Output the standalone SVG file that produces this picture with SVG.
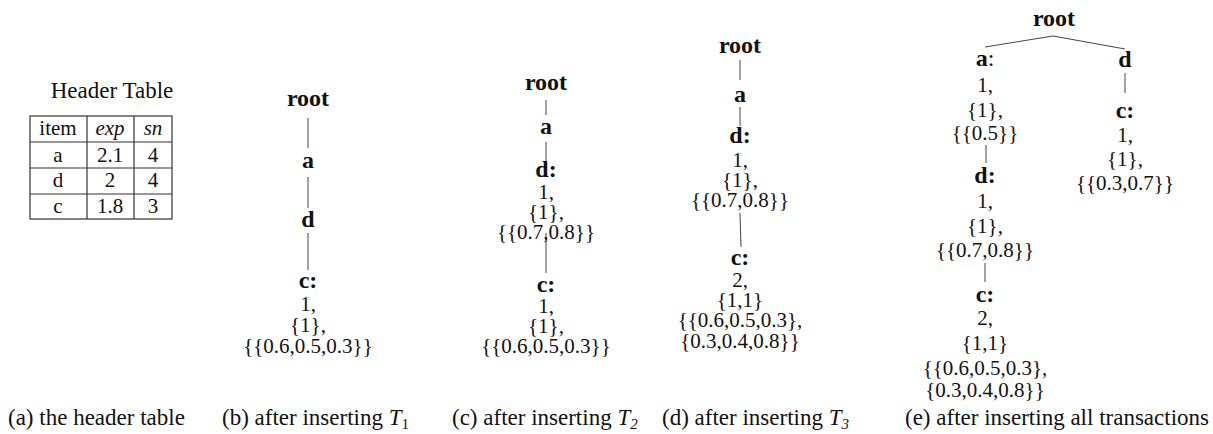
<svg xmlns="http://www.w3.org/2000/svg" width="1213" height="434" viewBox="0 0 1213 434">
<style>
text{font-family:"Liberation Serif","Times New Roman",serif;fill:#111;text-anchor:middle}
.lbl{font-size:24px;font-weight:bold}
.val{font-size:21px}
.cap{font-size:23px;text-anchor:start}
.tb{font-size:21px}
.hd{font-size:23px}
.it{font-style:italic}
.edge{stroke:#444;stroke-width:1;fill:none}
.grid{stroke:#333;stroke-width:1.2;fill:none}
</style>
<rect width="1213" height="434" fill="#fff"/>

<g id="header-table">
<text class="hd" x="112" y="98">Header Table</text>
<rect class="grid" x="30" y="116" width="142" height="103"/>
<line class="grid" x1="30" y1="142" x2="172" y2="142"/>
<line class="grid" x1="30" y1="168" x2="172" y2="168"/>
<line class="grid" x1="30" y1="194" x2="172" y2="194"/>
<line class="grid" x1="87" y1="116" x2="87" y2="219"/>
<line class="grid" x1="134" y1="116" x2="134" y2="219"/>
<text class="tb" x="58" y="135">item</text>
<text class="tb it" x="110" y="135">exp</text>
<text class="tb it" x="153" y="135">sn</text>
<text class="tb" x="58" y="162">a</text>
<text class="tb" x="110" y="162">2.1</text>
<text class="tb" x="153" y="162">4</text>
<text class="tb" x="58" y="187">d</text>
<text class="tb" x="110" y="187">2</text>
<text class="tb" x="153" y="187">4</text>
<text class="tb" x="58" y="213">c</text>
<text class="tb" x="110" y="213">1.8</text>
<text class="tb" x="153" y="213">3</text>
</g>

<g id="connectors">
<line class="edge" x1="308" y1="118" x2="308" y2="148"/>
<line class="edge" x1="308" y1="177" x2="308" y2="208"/>
<line class="edge" x1="308" y1="233" x2="308" y2="270"/>
<line class="edge" x1="546" y1="100" x2="546" y2="115"/>
<line class="edge" x1="546" y1="142" x2="546" y2="162"/>
<line class="edge" x1="546" y1="233" x2="546" y2="273"/>
<line class="edge" x1="740" y1="60" x2="740" y2="80"/>
<line class="edge" x1="740" y1="107" x2="740" y2="126"/>
<line class="edge" x1="740" y1="213" x2="741" y2="247"/>
<polyline class="edge" points="985,47 1053,36 1125,49"/>
<line class="edge" x1="986" y1="145" x2="986" y2="163"/>
<line class="edge" x1="985" y1="263" x2="985" y2="282"/>
<line class="edge" x1="1125" y1="73" x2="1125" y2="93"/>
</g>

<g id="b-root"><text class="lbl" x="308" y="106">root</text></g>
<g id="b-a"><text class="lbl" x="308" y="168">a</text></g>
<g id="b-d"><text class="lbl" x="308" y="227">d</text></g>
<g id="b-c"><text class="lbl" x="308" y="288">c:</text>
<text class="val" x="308" y="311">1,</text>
<text class="val" x="308" y="332">{1},</text>
<text class="val" x="308" y="353">{{0.6,0.5,0.3}}</text></g>

<g id="c-root"><text class="lbl" x="546" y="90">root</text></g>
<g id="c-a"><text class="lbl" x="546" y="134">a</text></g>
<g id="c-d"><text class="lbl" x="546" y="177">d:</text>
<text class="val" x="546" y="199">1,</text>
<text class="val" x="546" y="219">{1},</text>
<text class="val" x="546" y="239">{{0.7,0.8}}</text></g>
<g id="c-c"><text class="lbl" x="546" y="292">c:</text>
<text class="val" x="546" y="313">1,</text>
<text class="val" x="546" y="333">{1},</text>
<text class="val" x="546" y="353">{{0.6,0.5,0.3}}</text></g>

<g id="d-root"><text class="lbl" x="740" y="53">root</text></g>
<g id="d-a"><text class="lbl" x="740" y="102">a</text></g>
<g id="d-d"><text class="lbl" x="740" y="143">d:</text>
<text class="val" x="740" y="167">1,</text>
<text class="val" x="740" y="187">{1},</text>
<text class="val" x="740" y="207">{{0.7,0.8}}</text></g>
<g id="d-c"><text class="lbl" x="740" y="265">c:</text>
<text class="val" x="740" y="287">2,</text>
<text class="val" x="740" y="307">{1,1}</text>
<text class="val" x="740" y="327">{{0.6,0.5,0.3},</text>
<text class="val" x="740" y="348">{0.3,0.4,0.8}}</text></g>

<g id="e-root"><text class="lbl" x="1054" y="26">root</text></g>
<g id="e-a"><text class="lbl" x="985" y="66">a<tspan font-weight="normal">:</tspan></text>
<text class="val" x="985" y="92">1,</text>
<text class="val" x="985" y="117">{1},</text>
<text class="val" x="985" y="140">{{0.5}}</text></g>
<g id="e-ad"><text class="lbl" x="985" y="183">d:</text>
<text class="val" x="985" y="208">1,</text>
<text class="val" x="985" y="233">{1},</text>
<text class="val" x="985" y="257">{{0.7,0.8}}</text></g>
<g id="e-adc"><text class="lbl" x="985" y="302">c:</text>
<text class="val" x="985" y="325">2,</text>
<text class="val" x="985" y="350">{1,1}</text>
<text class="val" x="985" y="375">{{0.6,0.5,0.3},</text>
<text class="val" x="985" y="397">{0.3,0.4,0.8}}</text></g>
<g id="e-d"><text class="lbl" x="1125" y="67">d</text></g>
<g id="e-dc"><text class="lbl" x="1125" y="118">c:</text>
<text class="val" x="1125" y="142">1,</text>
<text class="val" x="1125" y="166">{1},</text>
<text class="val" x="1125" y="190">{{0.3,0.7}}</text></g>

<g id="captions">
<text class="cap" x="8" y="425">(a) the header table</text>
<text class="cap" x="222" y="425">(b) after inserting <tspan class="it">T</tspan><tspan font-size="15" dy="4">1</tspan></text>
<text class="cap" x="452" y="425">(c) after inserting <tspan class="it">T</tspan><tspan class="it" font-size="15" dy="4">2</tspan></text>
<text class="cap" x="662" y="425">(d) after inserting <tspan class="it">T</tspan><tspan class="it" font-size="15" dy="4">3</tspan></text>
<text class="cap" x="905" y="425">(e) after inserting all transactions</text>
</g>
</svg>
